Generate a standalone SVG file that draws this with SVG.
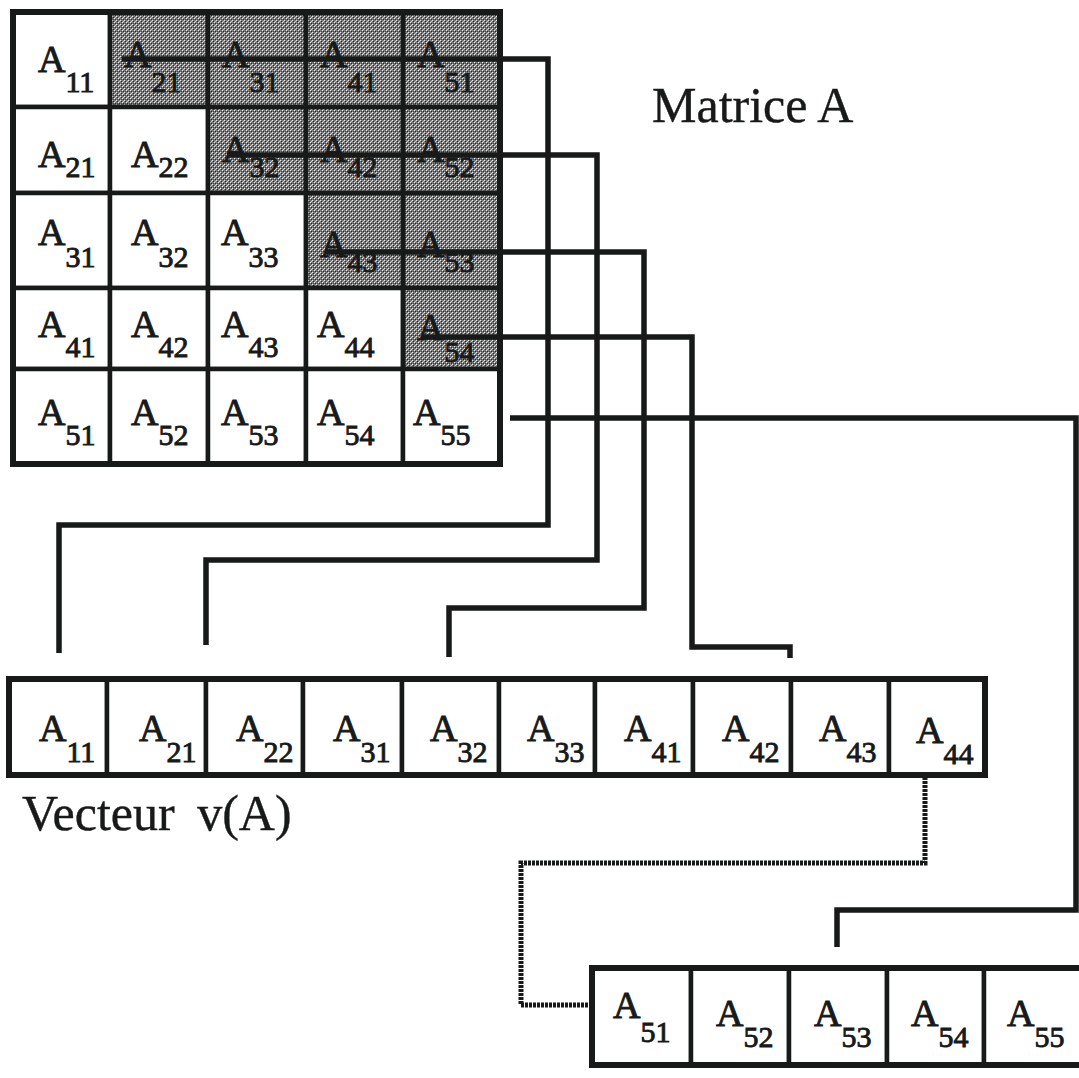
<svg xmlns="http://www.w3.org/2000/svg" width="1079" height="1078" viewBox="0 0 1079 1078">
<style>
.bg{fill:#ffffff}
.cell{fill:#ffffff;stroke:#171a19;stroke-width:4.5}
.shade{fill:url(#dither);stroke:#171a19;stroke-width:4.5}
.frame{fill:none;stroke:#171a19;stroke-width:6}
.lbl{font-family:"Liberation Serif","Times New Roman",serif;font-size:38px;fill:#171a19;stroke:#171a19;stroke-width:0.9}
.sub{font-size:30px}
.title{font-family:"Liberation Serif","Times New Roman",serif;font-size:50px;fill:#171a19;stroke:#171a19;stroke-width:0.4}
.conn{fill:none;stroke:#171a19;stroke-width:5.5;stroke-linejoin:miter}
.dot{fill:none;stroke:#171a19;stroke-width:5;stroke-dasharray:3 1}
</style>
<defs>
<pattern id="dither" width="4" height="4" patternUnits="userSpaceOnUse">
<rect width="4" height="4" fill="#7a7a7a"/>
<rect x="0" y="0" width="1" height="1" fill="#eeeeee"/>
<rect x="2" y="2" width="1" height="1" fill="#eeeeee"/>
<rect x="1" y="1" width="1" height="1" fill="#262626"/>
<rect x="3" y="3" width="1" height="1" fill="#262626"/>
<rect x="3" y="1" width="1" height="1" fill="#c8c8c8"/>
<rect x="1" y="3" width="1" height="1" fill="#4a4a4a"/>
</pattern>
</defs>
<rect class="bg" width="1079" height="1078"/>

<!-- Matrix A -->
<g id="matrix">
<g id="m11"><rect class="cell" x="13" y="12" width="97" height="95"/><text class="lbl" x="38" y="72">A<tspan class="sub" dy="20">11</tspan></text></g>
<g id="m12"><rect class="shade" x="110" y="12" width="98" height="95"/><text class="lbl" x="124" y="67">A<tspan class="sub" dy="25">21</tspan></text></g>
<g id="m13"><rect class="shade" x="208" y="12" width="98" height="95"/><text class="lbl" x="222" y="67">A<tspan class="sub" dy="25">31</tspan></text></g>
<g id="m14"><rect class="shade" x="306" y="12" width="97" height="95"/><text class="lbl" x="320" y="67">A<tspan class="sub" dy="25">41</tspan></text></g>
<g id="m15"><rect class="shade" x="403" y="12" width="97" height="95"/><text class="lbl" x="417" y="67">A<tspan class="sub" dy="25">51</tspan></text></g>

<g id="m21"><rect class="cell" x="13" y="107" width="97" height="86"/><text class="lbl" x="38" y="167">A<tspan class="sub" dy="10">21</tspan></text></g>
<g id="m22"><rect class="cell" x="110" y="107" width="98" height="86"/><text class="lbl" x="131" y="167">A<tspan class="sub" dy="10">22</tspan></text></g>
<g id="m23"><rect class="shade" x="208" y="107" width="98" height="86"/><text class="lbl" x="222" y="162">A<tspan class="sub" dy="15">32</tspan></text></g>
<g id="m24"><rect class="shade" x="306" y="107" width="97" height="86"/><text class="lbl" x="320" y="162">A<tspan class="sub" dy="15">42</tspan></text></g>
<g id="m25"><rect class="shade" x="403" y="107" width="97" height="86"/><text class="lbl" x="417" y="162">A<tspan class="sub" dy="15">52</tspan></text></g>

<g id="m31"><rect class="cell" x="13" y="193" width="97" height="95"/><text class="lbl" x="38" y="245">A<tspan class="sub" dy="22">31</tspan></text></g>
<g id="m32"><rect class="cell" x="110" y="193" width="98" height="95"/><text class="lbl" x="131" y="245">A<tspan class="sub" dy="22">32</tspan></text></g>
<g id="m33"><rect class="cell" x="208" y="193" width="98" height="95"/><text class="lbl" x="221" y="245">A<tspan class="sub" dy="22">33</tspan></text></g>
<g id="m34"><rect class="shade" x="306" y="193" width="97" height="95"/><text class="lbl" x="320" y="257">A<tspan class="sub" dy="15">43</tspan></text></g>
<g id="m35"><rect class="shade" x="403" y="193" width="97" height="95"/><text class="lbl" x="417" y="257">A<tspan class="sub" dy="15">53</tspan></text></g>

<g id="m41"><rect class="cell" x="13" y="288" width="97" height="81"/><text class="lbl" x="38" y="337">A<tspan class="sub" dy="20">41</tspan></text></g>
<g id="m42"><rect class="cell" x="110" y="288" width="98" height="81"/><text class="lbl" x="131" y="337">A<tspan class="sub" dy="20">42</tspan></text></g>
<g id="m43"><rect class="cell" x="208" y="288" width="98" height="81"/><text class="lbl" x="221" y="337">A<tspan class="sub" dy="20">43</tspan></text></g>
<g id="m44"><rect class="cell" x="306" y="288" width="97" height="81"/><text class="lbl" x="317" y="337">A<tspan class="sub" dy="20">44</tspan></text></g>
<g id="m45"><rect class="shade" x="403" y="288" width="97" height="81"/><text class="lbl" x="417" y="340">A<tspan class="sub" dy="22">54</tspan></text></g>

<g id="m51"><rect class="cell" x="13" y="369" width="97" height="95"/><text class="lbl" x="38" y="425">A<tspan class="sub" dy="20">51</tspan></text></g>
<g id="m52"><rect class="cell" x="110" y="369" width="98" height="95"/><text class="lbl" x="131" y="425">A<tspan class="sub" dy="20">52</tspan></text></g>
<g id="m53"><rect class="cell" x="208" y="369" width="98" height="95"/><text class="lbl" x="221" y="425">A<tspan class="sub" dy="20">53</tspan></text></g>
<g id="m54"><rect class="cell" x="306" y="369" width="97" height="95"/><text class="lbl" x="317" y="425">A<tspan class="sub" dy="20">54</tspan></text></g>
<g id="m55"><rect class="cell" x="403" y="369" width="97" height="95"/><text class="lbl" x="413" y="425">A<tspan class="sub" dy="20">55</tspan></text></g>
<rect class="frame" x="13" y="12" width="487" height="452"/>
</g>

<g id="title-matrix"><text class="title" x="652" y="122">Matrice A</text></g>

<!-- Vector v(A) -->
<g id="vector">
<g id="v11"><rect class="cell" x="9" y="679" width="98" height="96"/><text class="lbl" x="39" y="741">A<tspan class="sub" dy="21">11</tspan></text></g>
<g id="v21"><rect class="cell" x="107" y="679" width="99" height="96"/><text class="lbl" x="139" y="741">A<tspan class="sub" dy="21">21</tspan></text></g>
<g id="v22"><rect class="cell" x="206" y="679" width="97" height="96"/><text class="lbl" x="236" y="741">A<tspan class="sub" dy="21">22</tspan></text></g>
<g id="v31"><rect class="cell" x="303" y="679" width="99" height="96"/><text class="lbl" x="333" y="741">A<tspan class="sub" dy="21">31</tspan></text></g>
<g id="v32"><rect class="cell" x="402" y="679" width="97" height="96"/><text class="lbl" x="430" y="741">A<tspan class="sub" dy="21">32</tspan></text></g>
<g id="v33"><rect class="cell" x="499" y="679" width="96" height="96"/><text class="lbl" x="527" y="741">A<tspan class="sub" dy="21">33</tspan></text></g>
<g id="v41"><rect class="cell" x="595" y="679" width="98" height="96"/><text class="lbl" x="624" y="741">A<tspan class="sub" dy="21">41</tspan></text></g>
<g id="v42"><rect class="cell" x="693" y="679" width="98" height="96"/><text class="lbl" x="722" y="741">A<tspan class="sub" dy="21">42</tspan></text></g>
<g id="v43"><rect class="cell" x="791" y="679" width="98" height="96"/><text class="lbl" x="819" y="741">A<tspan class="sub" dy="21">43</tspan></text></g>
<g id="v44"><rect class="cell" x="889" y="679" width="96" height="96"/><text class="lbl" x="916" y="743">A<tspan class="sub" dy="21">44</tspan></text></g>
<rect class="frame" x="9" y="679" width="976" height="96"/>
</g>

<g id="title-vector"><text class="title" x="22" y="830" word-spacing="10">Vecteur v(A)</text></g>

<g id="vector2">
<g id="w51"><rect class="cell" x="592" y="968" width="99" height="97"/><text class="lbl" x="613" y="1018">A<tspan class="sub" dy="24">51</tspan></text></g>
<g id="w52"><rect class="cell" x="691" y="968" width="98" height="97"/><text class="lbl" x="716" y="1026">A<tspan class="sub" dy="21">52</tspan></text></g>
<g id="w53"><rect class="cell" x="789" y="968" width="98" height="97"/><text class="lbl" x="814" y="1026">A<tspan class="sub" dy="21">53</tspan></text></g>
<g id="w54"><rect class="cell" x="887" y="968" width="97" height="97"/><text class="lbl" x="911" y="1026">A<tspan class="sub" dy="21">54</tspan></text></g>
<g id="w55"><rect class="cell" x="984" y="968" width="98" height="97"/><text class="lbl" x="1007" y="1026">A<tspan class="sub" dy="21">55</tspan></text></g>
<rect class="frame" x="592" y="968" width="490" height="97"/>
</g>

<!-- Connectors -->
<g id="connectors">
<path class="conn" d="M122,59 H548 V525 H59 V653"/>
<path class="conn" d="M227,155 H597 V560 H206 V645"/>
<path class="conn" d="M325,252 H644 V608 H449 V657"/>
<path class="conn" d="M422,337 H692 V647 H790 V658"/>
<path class="conn" d="M510,418 H1076 V910 H837 V947"/>
<path class="dot" d="M925,777 V863 H521 V1005 H592"/>
</g>
</svg>
